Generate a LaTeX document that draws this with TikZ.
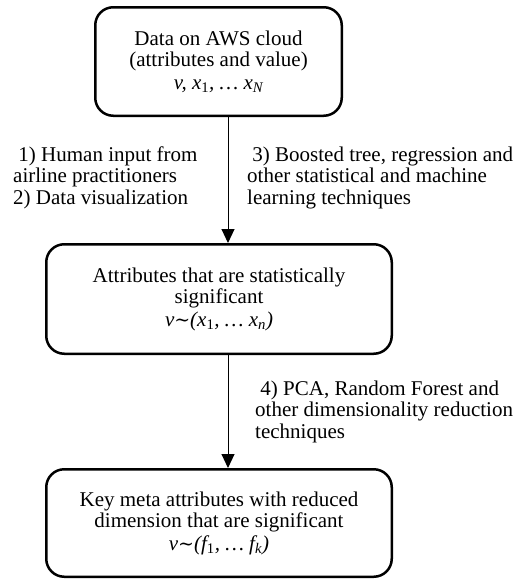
\documentclass[tikz,border=0pt]{standalone}
\usepackage{fontspec}
\newfontfamily\fa{Liberation Serif}
\newfontfamily\fb{DejaVu Serif}
\newfontfamily\fc{LiberationSerif}
\newfontfamily\fd{Liberation Serif:style=Regular}
\usetikzlibrary{arrows.meta}
\newcommand\vsub[2]{#1\textsubscript{#2}}
\newcommand\tildeop{{\fb\fontsize{19}{19}\selectfont\upshape ∼}}
\begin{document}
\begin{tikzpicture}[x=1pt,y=-1pt,
  box/.style={font=\fontsize{21}{21.5}\fa, draw, line width=2.5pt, rounded corners=18pt, align=center, inner sep=0pt},
  lab/.style={font=\fontsize{21}{21.5}\fc, anchor=base west, inner sep=0pt},
  arr/.style={line width=1pt, -{Triangle[width=13pt,length=14pt]}}]
\useasboundingbox (0,0) rectangle (517,581);
\node[box, minimum width=246.5pt, minimum height=108.5pt] (b1) at (218.5,61.5)
  {Data on AWS cloud\\(attributes and value)\\[1pt]{\itshape v, \vsub{x}{\upshape 1}, … \vsub{x}{N}}};
\node[box, minimum width=345.5pt, minimum height=109.5pt] (b2) at (219,299)
  {Attributes that are statistically\\significant\\[1pt]{\itshape v\tildeop(\vsub{x}{\upshape 1}, … \vsub{x}{n})}};
\node[box, minimum width=345.5pt, minimum height=107.5pt] (b3) at (219,523)
  {Key meta attributes with reduced\\dimension that are significant\\[1pt]{\itshape v\tildeop(\vsub{f}{\upshape 1}, … \vsub{f}{k})}};
\coordinate (ax) at (228,0);
\draw[arr] (b1.south -| ax) -- (b2.north -| ax);
\draw[arr] (b2.south -| ax) -- (b3.north -| ax);
\node[lab] (l1) at (13,161) {\begin{tabular}[t]{@{}l@{}}\ 1) Human input from\\airline practitioners\\2) Data visualization\end{tabular}};
\node[lab] (l3) at (247,161) {\begin{tabular}[t]{@{}l@{}}\ 3) Boosted tree, regression and\\other statistical and machine\\learning techniques\end{tabular}};
\node[lab, font=\fontsize{21}{21.5}\fd] (l4) at (255,395) {\begin{tabular}[t]{@{}l@{}}\ 4) PCA, Random Forest and\\other dimensionality reduction\\techniques\end{tabular}};
\end{tikzpicture}
\end{document}
